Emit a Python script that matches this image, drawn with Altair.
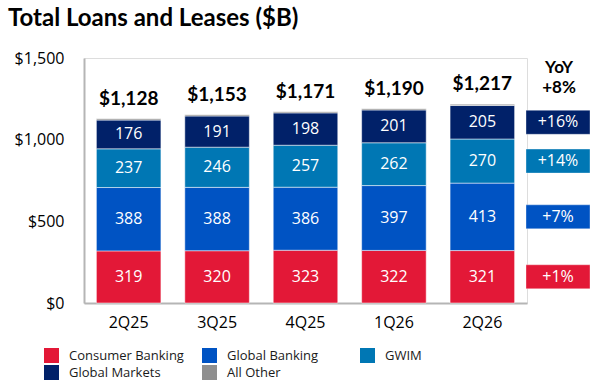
import altair as alt
import pandas as pd

# Quarterly loan balances by segment ($B)
quarters = ["2Q25", "3Q25", "4Q25", "1Q26", "2Q26"]
consumer_banking = [319, 320, 323, 322, 321]
global_banking = [388, 388, 386, 397, 413]
gwim = [237, 246, 257, 262, 270]
global_markets = [176, 191, 198, 201, 205]
all_other = [8, 8, 7, 8, 8]
totals = [1128, 1153, 1171, 1190, 1217]

segments = ["Consumer Banking", "Global Banking", "GWIM", "Global Markets", "All Other"]
colors = ["#E31837", "#0053C3", "#0077B4", "#012169", "#8F8F8F"]

# Year-over-year change by segment, and for the total
yoy_segments = ["Global Markets", "GWIM", "Global Banking", "Consumer Banking"]
yoy_labels = ["+16%", "+14%", "+7%", "+1%"]
yoy_total = "+8%"

series = [consumer_banking, global_banking, gwim, global_markets, all_other]
rows = []
for order, (seg, vals) in enumerate(zip(segments, series)):
    for q, v in zip(quarters, vals):
        rows.append({"quarter": q, "segment": seg, "value": v, "order": order})
df = pd.DataFrame(rows)
yoy_map = dict(zip(yoy_segments, yoy_labels))
df["yoy"] = df["segment"].map(yoy_map).fillna("")

totals_df = pd.DataFrame({"quarter": quarters, "total": totals})

FONT = "Open Sans"
BOLD = "Lato"

x_enc = alt.X(
    "quarter:N",
    sort=quarters,
    scale=alt.Scale(paddingInner=0.27, paddingOuter=0.14),
    axis=alt.Axis(title=None, labelAngle=0, ticks=False, labelPadding=11,
                  labelFontSize=16, labelFont=FONT, labelColor="#000000",
                  domainColor="#b5b5b5", domainWidth=2),
)
y_scale = alt.Scale(domain=[0, 1500], nice=False)

base = alt.Chart(df).transform_stack(
    stack="value", groupby=["quarter"], sort=[alt.SortField("order")], as_=["y0", "y1"]
).transform_calculate(mid="(datum.y0 + datum.y1) / 2")

bars = base.mark_bar(stroke="white", strokeWidth=1, strokeOpacity=0.5).encode(
    x=x_enc,
    y=alt.Y("y0:Q", scale=y_scale,
            axis=alt.Axis(title=None, values=[0, 500, 1000, 1500], format="$,.0f",
                          ticks=False, grid=False, labelPadding=20,
                          labelFontSize=16, labelFont=FONT, labelColor="#000000",
                          domainColor="#b5b5b5", domainWidth=2)),
    y2="y1:Q",
    color=alt.Color(
        "segment:N",
        scale=alt.Scale(domain=segments, range=colors),
        legend=alt.Legend(
            title=None, orient="none", direction="horizontal", legendX=-40, legendY=290,
            columns=3, gridAlign="all", columnPadding=18, rowPadding=2,
            symbolType="square", symbolSize=225, symbolStrokeWidth=0,
            labelFont=FONT, labelFontSize=13, labelColor="#1a1a1a", labelOffset=10,
            labelLimit=200,
        ),
    ),
)

seg_labels = base.transform_filter(alt.datum.segment != "All Other").mark_text(
    color="white", font=FONT, fontSize=16, baseline="middle"
).encode(x=x_enc, y=alt.Y("mid:Q", scale=y_scale), text="value:Q")

total_labels = alt.Chart(totals_df).mark_text(
    font=BOLD, fontSize=19, fontWeight="bold", color="#000000",
    baseline="alphabetic", dy=-14
).encode(x=x_enc, y=alt.Y("total:Q", scale=y_scale), text=alt.Text("total:Q", format="$,.0f"))

# YoY badges beside the latest quarter, centred on each segment
badge_shape = "M-1,-0.375 L1,-0.375 L1,0.375 L-1,0.375 Z"
yoy_base = base.transform_filter(
    (alt.datum.quarter == quarters[-1]) & (alt.datum.yoy != "")
)
badges = yoy_base.mark_point(
    shape=badge_shape, filled=True, size=4096, opacity=1,
    stroke="white", strokeWidth=1, strokeOpacity=0.35
).encode(
    x=alt.value(474),
    y=alt.Y("mid:Q", scale=y_scale),
    color=alt.Color("segment:N", scale=alt.Scale(domain=segments, range=colors), legend=None),
)
badge_text = yoy_base.mark_text(
    color="white", font=FONT, fontSize=16, baseline="middle"
).encode(x=alt.value(474), y=alt.Y("mid:Q", scale=y_scale), text="yoy:N")

yoy_header = alt.Chart(pd.DataFrame({"t": ["YoY\n" + yoy_total]})).mark_text(
    font=BOLD, fontSize=17, fontWeight="bold", color="#000000",
    baseline="alphabetic", lineBreak="\n", lineHeight=20
).encode(x=alt.value(475), y=alt.value(15), text="t:N")

chart = alt.layer(bars, seg_labels, total_labels, badges, badge_text, yoy_header).resolve_scale(
    color="independent"
).properties(
    width=443,
    height=245,
    title=alt.TitleParams(
        "Total Loans and Leases ($B)", anchor="start", frame="group",
        font=BOLD, fontSize=24, fontWeight="bold", color="#000000", dx=-76, offset=19,
    ),
    autosize=alt.AutoSizeParams(type="none"),
    padding={"left": 84, "top": 58, "right": 75, "bottom": 89},
).configure_view(stroke=None).configure(background="white")

chart.save("out.html", embed_options={"renderer": "svg", "actions": False})
